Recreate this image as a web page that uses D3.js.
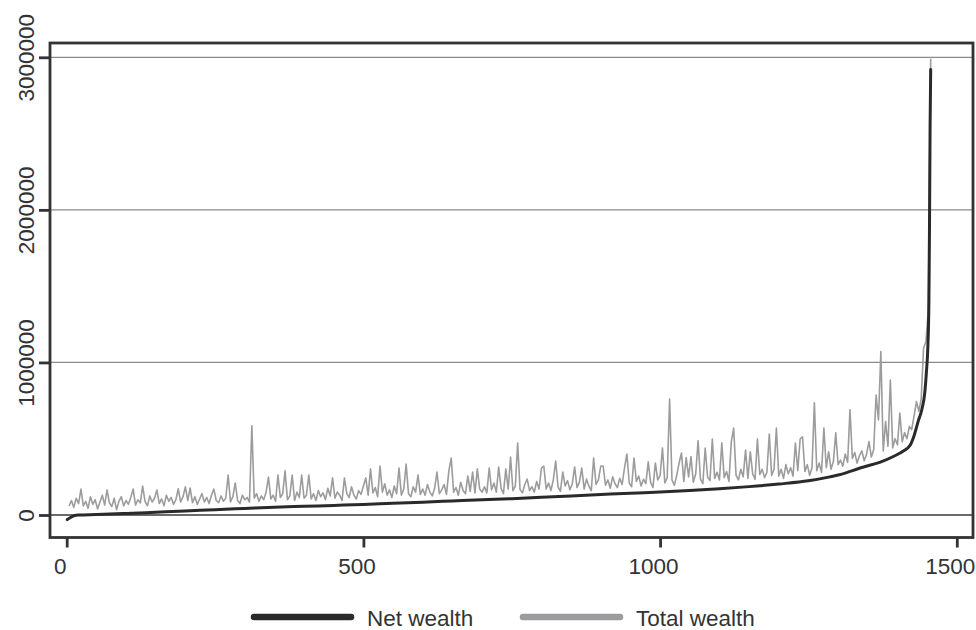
<!DOCTYPE html>
<html>
<head>
<meta charset="utf-8">
<script src="https://cdn.jsdelivr.net/npm/d3@7/dist/d3.min.js"></script>
<style>
  html, body { margin: 0; padding: 0; background: #fff; }
  svg { display: block; font-family: "Liberation Sans", Arial, sans-serif; }
</style>
</head>
<body>
<svg id="chart" width="976" height="630"></svg>
<script>
// Household rank (sorted by net wealth) and wealth in thousands
const netRank = [1, 5, 12, 20, 50, 100, 150, 200, 250, 300, 350, 400, 450, 500, 550, 600, 650, 700, 750, 800,
    850, 900, 950, 1000, 1050, 1100, 1150, 1200, 1250, 1286, 1300, 1343, 1370, 1394, 1410, 1421, 1428, 1435,
    1441, 1446, 1449, 1451, 1453, 1454, 1455, 1456];
const netWealth = [-30, -20, -5, 0, 3, 10, 18, 26, 35, 43, 51, 57, 63, 69, 77, 84, 92, 100, 107, 116,
    125, 134, 143, 150, 160, 172, 186, 203, 224, 250, 262, 315, 345, 385, 420, 455, 520, 615,
    690, 800, 950, 1080, 1400, 1900, 2550, 2920];

// Total wealth read every 4th household, starting at rank 4
const totalStart = 4;
const totalStep = 4;
const totalWealth = [
    60, 95, 50, 110, 75, 170, 60, 90, 45, 120, 70, 100, 40, 85, 130, 65, 164, 80, 55, 110, 35, 90, 120, 60, 95,
    70, 115, 170, 65, 100, 80, 190, 90, 60, 125, 85, 110, 164, 75, 105, 60, 130, 90, 115, 70, 100, 172, 85, 120, 184,
    95, 177, 80, 120, 70, 105, 140, 85, 115, 75, 130, 170, 95, 80, 125, 90, 110, 262, 85, 120, 210, 95, 75, 130, 100,
    115, 85, 584, 110, 140, 90, 125, 100, 150, 249, 105, 130, 90, 262, 115, 140, 289, 100, 125, 262, 95, 150, 115, 262, 110,
    130, 262, 105, 140, 95, 160, 120, 145, 100, 175, 125, 243, 110, 150, 130, 95, 243, 140, 115, 185, 130, 105, 160, 135, 190,
    243, 130, 302, 145, 180, 120, 321, 150, 205, 130, 165, 115, 190, 140, 308, 130, 170, 334, 140, 120, 185, 150, 262, 135, 170,
    130, 200, 150, 125, 175, 282, 140, 165, 200, 135, 289, 374, 150, 180, 130, 215, 160, 140, 256, 155, 282, 145, 302, 170, 150,
    185, 145, 308, 165, 210, 150, 315, 175, 140, 302, 170, 380, 160, 190, 472, 165, 145, 200, 236, 160, 185, 150, 220, 170, 308,
    321, 170, 210, 160, 230, 354, 185, 155, 282, 190, 225, 165, 205, 315, 180, 215, 308, 170, 235, 190, 160, 374, 200, 230, 321,
    321, 195, 230, 175, 250, 205, 180, 240, 200, 308, 400, 210, 185, 374, 220, 255, 190, 235, 205, 348, 215, 180, 341, 230, 260,
    439, 210, 245, 760, 230, 195, 260, 341, 406, 220, 376, 250, 383, 215, 270, 487, 235, 205, 439, 250, 225, 498, 240, 280, 230,
    474, 245, 285, 220, 481, 570, 260, 230, 300, 250, 426, 240, 415, 270, 235, 498, 265, 300, 245, 280, 531, 260, 300, 570, 255,
    300, 240, 330, 270, 310, 255, 472, 290, 498, 513, 285, 330, 260, 310, 736, 290, 340, 280, 570, 310, 415, 300, 350, 538, 330,
    360, 320, 400, 345, 689, 370, 410, 340, 390, 420, 355, 400, 481, 380, 430, 787, 623, 1071, 420, 612, 450, 885, 440, 500, 460,
    669, 480, 540, 500, 580, 560, 650, 743, 680, 760, 1095, 1136, 1350, 2990
];

const xTicks = [0, 500, 1000, 1500];
const yTicks = [0, 1000000, 2000000, 3000000];
const seriesNames = ['Net wealth', 'Total wealth'];
const seriesColors = ['#2a2a2a', '#9c9c9e'];

const totalRank = totalWealth.map((v, k) => totalStart + k * totalStep);
const netData = netRank.map((r, k) => ({ rank: r, value: netWealth[k] * 1000 }));
const totalData = totalRank.map((r, k) => ({ rank: r, value: totalWealth[k] * 1000 }));

const svg = d3.select('#chart');
const frame = { left: 50, right: 973, top: 43, bottom: 537.5 };
const fontSize = '22.5px';

const x = d3.scaleLinear().domain([0, 1500]).range([66.7, 956.8]);
const y = d3.scaleLinear().domain([0, 3000000]).range([515, 57.3]);

const ink = '#333';

// Horizontal grid lines
svg.append('g')
    .selectAll('line')
    .data(yTicks)
    .enter()
    .append('line')
    .attr('x1', frame.left)
    .attr('x2', frame.right)
    .attr('y1', d => y(d))
    .attr('y2', d => y(d))
    .style('stroke', d => d === 0 ? '#3a3a3a' : '#8a8a8a')
    .style('stroke-width', 1.3);

// Total wealth (grey, spiky)
const line = d3.line()
    .x(d => x(d.rank))
    .y(d => y(d.value));

svg.append('path')
    .datum(totalData)
    .attr('d', line)
    .style('fill', 'none')
    .style('stroke', seriesColors[1])
    .style('stroke-width', 1.6)
    .style('stroke-linejoin', 'round');

// Net wealth (black, smooth)
svg.append('path')
    .datum(netData)
    .attr('d', line.curve(d3.curveMonotoneX))
    .style('fill', 'none')
    .style('stroke', seriesColors[0])
    .style('stroke-width', 3)
    .style('stroke-linejoin', 'round')
    .style('stroke-linecap', 'round');

// Plot frame
svg.append('rect')
    .attr('x', frame.left)
    .attr('y', frame.top)
    .attr('width', frame.right - frame.left)
    .attr('height', frame.bottom - frame.top)
    .style('fill', 'none')
    .style('stroke', ink)
    .style('stroke-width', 2.8);

// Y axis: ticks outside the frame, labels rotated
const yAxis = d3.axisLeft(y)
    .tickValues(yTicks)
    .tickSize(11)
    .tickPadding(3)
    .tickFormat(d3.format('d'));

const gy = svg.append('g')
    .attr('transform', `translate(${frame.left}, 0)`)
    .call(yAxis);
gy.select('.domain').remove();
gy.selectAll('.tick line').style('stroke', ink).style('stroke-width', 2.8);
gy.selectAll('.tick text')
    .attr('x', null)
    .attr('dy', null)
    .attr('transform', 'translate(-16, 0) rotate(-90)')
    .attr('text-anchor', 'middle')
    .style('font-size', fontSize)
    .style('fill', ink)
    .style('font-family', '"Liberation Sans", Arial, sans-serif');

// X axis (labels sit a little left of their ticks, as in the source)
const xAxis = d3.axisBottom(x)
    .tickValues(xTicks)
    .tickSize(10)
    .tickPadding(0)
    .tickFormat(d3.format('d'));

const gx = svg.append('g')
    .attr('transform', `translate(0, ${frame.bottom})`)
    .call(xAxis);
gx.select('.domain').remove();
gx.selectAll('.tick line').style('stroke', ink).style('stroke-width', 2.8);
gx.selectAll('.tick text')
    .attr('x', -7)
    .attr('y', 36)
    .attr('dy', null)
    .style('font-size', fontSize)
    .style('fill', ink)
    .style('font-family', '"Liberation Sans", Arial, sans-serif');

// Legend
const legendItems = [
    { name: seriesNames[0], color: seriesColors[0], x: 254 },
    { name: seriesNames[1], color: seriesColors[1], x: 523 }
];
const legend = svg.append('g');
legendItems.forEach(item => {
    legend.append('line')
        .attr('x1', item.x)
        .attr('x2', item.x + 97)
        .attr('y1', 617)
        .attr('y2', 617)
        .style('stroke', item.color)
        .style('stroke-width', 6.5)
        .style('stroke-linecap', 'round');
    legend.append('text')
        .attr('x', item.x + 113)
        .attr('y', 626)
        .text(item.name)
        .style('font-size', fontSize)
        .style('fill', ink);
});
</script>
</body>
</html>
